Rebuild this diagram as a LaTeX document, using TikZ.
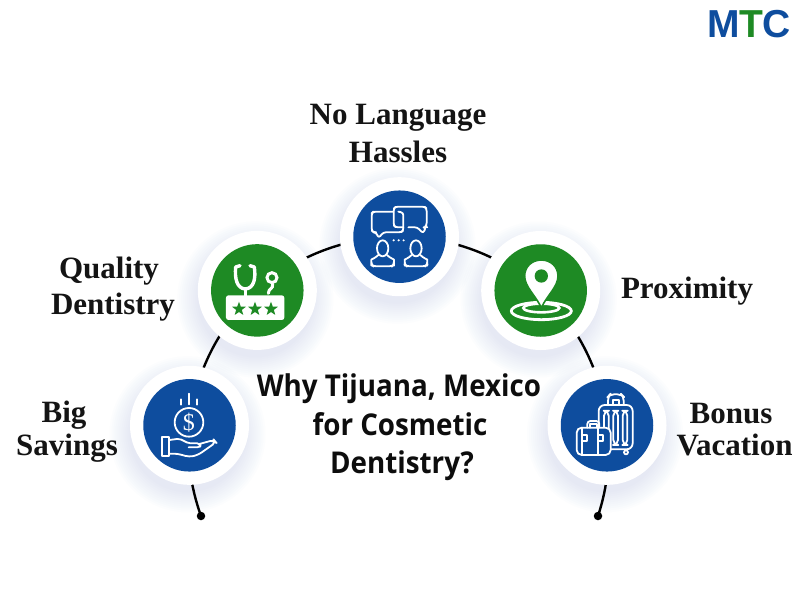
\documentclass[tikz,border=0pt]{standalone}
\usepackage{fontspec}
\setmainfont{Liberation Serif}
\newfontfamily\headfont[FakeStretch=0.925]{Open Sans}
\newfontfamily\logofont{Liberation Sans}
\usetikzlibrary{shapes.geometric}
\definecolor{brandblue}{RGB}{14,77,158}
\definecolor{brandgreen}{RGB}{30,138,36}
\definecolor{softshade}{RGB}{120,150,195}
\tikzset{
  plate/.style={circle,fill=white,inner sep=0pt,minimum size=119pt},
  disc/.style={circle,inner sep=0pt,minimum size=92.5pt,fill=#1},
  arcline/.style={line width=2.4pt,black,looseness=0.88},
  tiplabel/.style={font=\fontsize{31}{36}\selectfont\bfseries,align=center,inner sep=0pt,text=black!92},
  iconline/.style={white,line width=1.8pt,line cap=round,line join=round},
}
% soft shadow under a plate
\newcommand{\softshadow}[2]{%
  \foreach \r in {58,60,...,78}
    \fill[softshade,opacity=0.016] (#1-2,#2+9) circle (\r);
}
\begin{document}
\begin{tikzpicture}[x=1pt,y=-1pt]
\fill[white] (0,0) rectangle (800,600);
\useasboundingbox (0,0) rectangle (800,600);

% centres of the five stops
\coordinate (csavings) at (189.5,425.3);
\coordinate (cquality) at (257.3,290.4);
\coordinate (clanguage) at (399.5,236.7);
\coordinate (cproximity) at (540.7,290.5);
\coordinate (cvacation) at (607,425.3);

\softshadow{189.5}{425.3}
\softshadow{257.3}{290.4}
\softshadow{399.5}{236.7}
\softshadow{540.7}{290.5}
\softshadow{607}{425.3}

% end points of the arc
\node[circle,fill=black,inner sep=0pt,minimum size=8.5pt] (endL) at (201,516) {};
\node[circle,fill=black,inner sep=0pt,minimum size=8.5pt] (endR) at (598,516) {};

% arc through the stops, later covered by the plates
\draw[arcline] (endL.center) to[bend left=12.5] (csavings);
\draw[arcline] (csavings) to[bend left=21] (cquality);
\draw[arcline] (cquality) to[bend left=21] (clanguage);
\draw[arcline] (clanguage) to[bend left=21] (cproximity);
\draw[arcline] (cproximity) to[bend left=21] (cvacation);
\draw[arcline] (cvacation) to[bend left=12.5] (endR.center);

% plates
\node[plate] (savings) at (csavings) {};
\node[plate] (quality) at (cquality) {};
\node[plate] (language) at (clanguage) {};
\node[plate] (proximity) at (cproximity) {};
\node[plate] (vacation) at (cvacation) {};

% coloured discs
\node[disc=brandblue] (savingsdisc) at (savings) {};
\node[disc=brandgreen] (qualitydisc) at (quality) {};
\node[disc=brandblue] (languagedisc) at (language) {};
\node[disc=brandgreen] (proximitydisc) at (proximity) {};
\node[disc=brandblue] (vacationdisc) at (vacation) {};

% stethoscope over a three-star board
\begin{scope}[shift={(120,220)},x=0.3333pt,y=-0.3333pt]
  \fill[white,rounded corners=2.5pt] (318,226) rectangle (493,300);
  \foreach \sx in {357,405,453}
    \node[star,star points=5,star point ratio=2.4,fill=brandgreen,inner sep=0pt,minimum size=14.5pt] (st\sx) at (\sx,267) {};
  \draw[white,line width=3.4pt,line cap=round,line join=round]
    (360,137) -- (347,141) .. controls (344,175) and (350,205) .. (376,207)
    .. controls (402,205) and (408,175) .. (403,141) -- (390,137);
  \draw[white,line width=3pt] (376,207) -- (376,228);
  \draw[white,line width=3pt] (456,173) circle (15);
  \draw[white,line width=3pt,line cap=round] (458,192) .. controls (460,208) and (446,204) .. (445,220);
\end{scope}

% two speech bubbles and two people
\begin{scope}[shift={(330,170)},x=0.3333pt,y=-0.3333pt]
  \draw[iconline,rounded corners=2.5pt] (190,125) -- (130,125) -- (125,130) -- (125,182) -- (131,187) -- (138,187) -- (146,204) -- (160,187) -- (213,187) -- (220,182) -- (220,128) -- (205,125);
  \draw[iconline,rounded corners=2.5pt] (220,172) -- (197,172) -- (191,166) -- (191,116) -- (197,110) -- (284,110) -- (290,116) -- (290,166) -- (284,172) -- (288,172) -- (279,190) -- (262,172) -- (235,172);
  \foreach \dx in {191,206,221} \fill[white] (\dx,211) circle (3.5);
  \foreach \ox in {0,100} {
    \draw[iconline] (158+\ox,235) ellipse (17 and 24);
    \draw[iconline,rounded corners=3pt] (145+\ox,255) .. controls (135+\ox,265) and (124+\ox,268) .. (124+\ox,278)
      -- (124+\ox,284) -- (130+\ox,289) -- (186+\ox,289) -- (192+\ox,284) -- (192+\ox,278)
      .. controls (192+\ox,268) and (181+\ox,265) .. (171+\ox,255);
  }
\end{scope}

% map pin on target rings
\begin{scope}[shift={(470,230)},x=0.3333pt,y=-0.3333pt]
  \draw[white,line width=2.8pt] (214,243) ellipse (90 and 26);
  \draw[white,line width=2.6pt] (214,234) ellipse (54 and 13);
  \fill[white,draw=brandgreen,line width=1.6pt]
    (214,233) .. controls (196,195) and (164,170) .. (164,138)
    .. controls (164,110) and (186,90) .. (214,90)
    .. controls (242,90) and (264,110) .. (264,138)
    .. controls (264,170) and (232,195) .. (214,233) -- cycle;
  \fill[brandgreen] (214,138) circle (20);
\end{scope}

% coin above an open hand
\begin{scope}[shift={(120,360)},x=0.3333pt,y=-0.3333pt]
  \draw[iconline] (207,187) circle (43);
  \draw[iconline] (207,101) -- (207,133) (183,118) -- (183,134) (231,118) -- (231,134);
  \node[text=white,font=\fontsize{24}{24}\selectfont,inner sep=0pt] (dollar) at (207,187) {\$};
  \draw[iconline] (125,230) rectangle (148,287);
  \draw[iconline,rounded corners=2pt] (148,240) -- (178,236) -- (206,250) -- (238,250)
    -- (243,256) -- (238,262) -- (206,262);
  \draw[iconline,rounded corners=4pt] (238,252) -- (282,240) -- (288,247) -- (234,285) -- (208,291) -- (172,281) -- (148,281);
\end{scope}

% two suitcases
\begin{scope}[shift={(540,360)},x=0.3333pt,y=-0.3333pt]
  \draw[iconline,rounded corners=4pt] (204,135) -- (204,110) -- (210,103) -- (244,103) -- (251,110) -- (251,135);
  \draw[iconline] (218,135) -- (218,120) -- (237,120) -- (237,135);
  \draw[iconline,rounded corners=6pt] (176,205) -- (176,135) -- (278,135) -- (278,268) -- (212,268);
  \foreach \sx in {192,220,248}
    \draw[iconline,rounded corners=5pt] (\sx,152) rectangle (\sx+14,255);
  \draw[iconline] (258,277) circle (6);
  \fill[brandblue,rounded corners=5pt] (110,203) rectangle (212,285);
  \draw[iconline,rounded corners=5pt] (110,203) rectangle (212,285);
  \draw[iconline,rounded corners=3pt] (142,203) -- (142,183) -- (178,183) -- (178,203);
  \draw[iconline] (150,203) -- (150,192) -- (170,192) -- (170,203);
  \foreach \sx in {125,175} {
    \draw[iconline] (\sx,203) -- (\sx,285);
    \draw[iconline,fill=brandblue] (\sx-0,224) rectangle (\sx+15,242);
  }
\end{scope}

% captions
\node[tiplabel,anchor=base] (lblLang1) at (398,124) {No Language};
\node[tiplabel,anchor=base] (lblLang2) at (398,162) {Hassles};
\node[tiplabel,anchor=base] (lblQual1) at (109,278) {Quality};
\node[tiplabel,anchor=base] (lblQual2) at (113,314) {Dentistry};
\node[tiplabel,anchor=base] (lblBig1) at (64,422) {Big};
\node[tiplabel,anchor=base] (lblBig2) at (67,455.5) {Savings};
\node[tiplabel,anchor=base] (lblProx) at (687,298.5) {Proximity};
\node[tiplabel,anchor=base] (lblBon1) at (731,423) {Bonus};
\node[tiplabel,anchor=base] (lblBon2) at (734.5,455) {Vacation};

% central question
\tikzset{headline/.style={font=\headfont\fontsize{30}{34}\selectfont\bfseries,inner sep=0pt,text=black!95}}
\node[headline,anchor=base] (q1) at (399,396.7) {Why Tijuana, Mexico};
\node[headline,anchor=base] (q2) at (400,435) {for Cosmetic};
\node[headline,anchor=base] (q3) at (402,473) {Dentistry?};

% logo
\node[anchor=base west,inner sep=0pt,font=\logofont\fontsize{39}{39}\selectfont\bfseries] (logo) at (707,37.3)
  {\textcolor{brandblue}{M}\kern-0.5pt\textcolor{brandgreen}{T}\kern-0.5pt\textcolor{brandblue}{C}};
\end{tikzpicture}
\end{document}
